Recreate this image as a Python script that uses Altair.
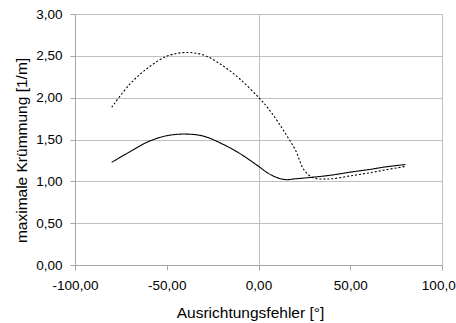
import altair as alt
import pandas as pd

# Solid series (durchgezogen)
x_solid = [-80, -70, -60, -50, -40, -30, -20, -10, 0, 5, 10, 15, 20, 30, 40, 50, 60, 70, 80]
y_solid = [1.227, 1.355, 1.475, 1.545, 1.565, 1.54, 1.45, 1.33, 1.18, 1.10, 1.045, 1.02, 1.03,
           1.05, 1.075, 1.11, 1.14, 1.175, 1.20]

# Dashed series (gestrichelt)
x_dashed = [-80, -70, -60, -50, -40, -30, -20, -10, 0, 5, 10, 15, 20, 25, 30, 35, 40, 50, 60, 70, 80]
y_dashed = [1.885, 2.165, 2.36, 2.495, 2.54, 2.51, 2.39, 2.22, 2.004, 1.88, 1.73, 1.56, 1.38,
            1.13, 1.04, 1.028, 1.03, 1.065, 1.10, 1.14, 1.178]

x_ticks = [-100, -50, 0, 50, 100]
y_ticks = [0, 0.5, 1.0, 1.5, 2.0, 2.5, 3.0]

df = pd.concat([
    pd.DataFrame({"x": x_solid, "y": y_solid, "series": "solid"}),
    pd.DataFrame({"x": x_dashed, "y": y_dashed, "series": "dashed"}),
])

fmt = "(datum.value < 0 ? '-' : '') + replace(format(abs(datum.value), '.2f'), '.', ',')"

chart = alt.Chart(df).mark_line(
    color="black", strokeWidth=1.1, interpolate="catmull-rom"
).encode(
    x=alt.X(
        "x:Q",
        scale=alt.Scale(domain=[-100, 100], nice=False, zero=False),
        axis=alt.Axis(
            values=x_ticks,
            title="Ausrichtungsfehler [°]",
            labelExpr=fmt,
            labelFlush=False,
            labelOverlap=False,
            labelPadding=8,
            tickSize=5,
            gridOpacity={"condition": {"test": "abs(datum.value) % 100 == 0", "value": 1}, "value": 0},
            titleX=175,
            titleY=52,
            titleBaseline="alphabetic",
        ),
    ),
    y=alt.Y(
        "y:Q",
        scale=alt.Scale(domain=[0, 3], nice=False),
        axis=alt.Axis(
            values=y_ticks,
            title="maximale Krümmung [1/m]",
            labelExpr=fmt,
            labelPadding=8,
            tickSize=5,
            titleX=-54,
            titleY=136,
            titleBaseline="middle",
        ),
    ),
    strokeDash=alt.StrokeDash(
        "series:N",
        scale=alt.Scale(domain=["solid", "dashed"], range=[[1, 0], [2, 2]]),
        legend=None,
    ),
    detail="series:N",
).properties(
    width=367,
    height=251,
    autosize="none",
    padding={"left": 75, "top": 14, "right": 14, "bottom": 58},
).configure_view(
    stroke=None
).configure_axis(
    gridColor="#c0c0c0",
    gridWidth=1,
    domainColor="#a6a6a6",
    tickColor="#a6a6a6",
    labelFont="Liberation Sans",
    titleFont="Liberation Sans",
    labelFontSize=13.5,
    titleFontSize=15.5,
    titleFontWeight="normal",
    labelColor="#000000",
    titleColor="#000000",
)

chart.save("out.html", embed_options={"renderer": "svg", "actions": False})
